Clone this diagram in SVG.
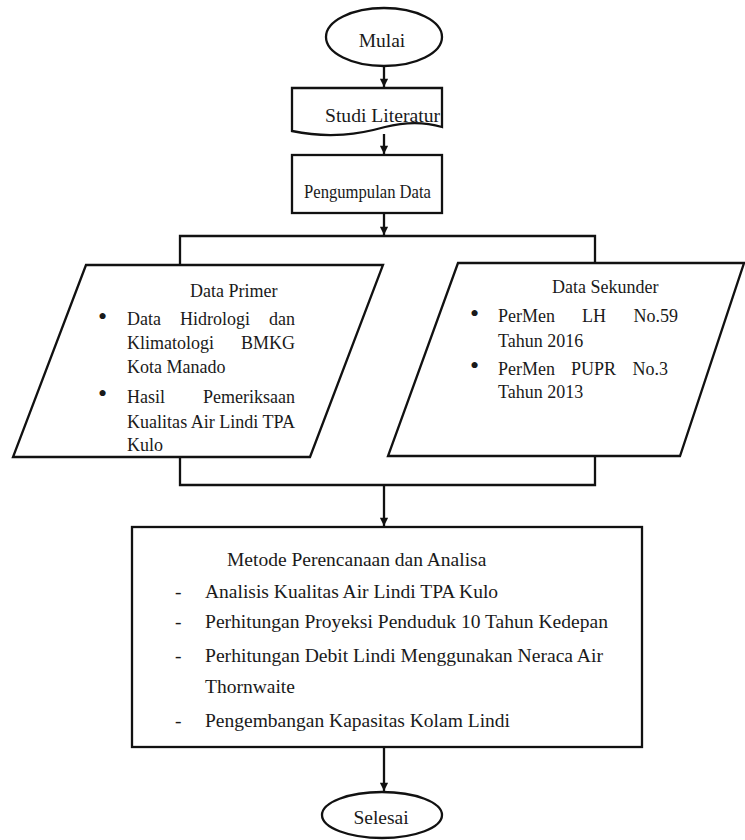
<svg xmlns="http://www.w3.org/2000/svg" width="745" height="840" viewBox="0 0 745 840">
<defs>
<marker id="arr" viewBox="0 0 10 10" refX="10" refY="5" markerWidth="4" markerHeight="3.6" orient="auto" markerUnits="strokeWidth">
<path d="M0,0 L10,5 L0,10 Z" fill="#111"/>
</marker>
<style>
.s{fill:#fff;stroke:#111;stroke-width:2.3}
.c{fill:none;stroke:#111;stroke-width:2.3}
.t1{font-size:19.5px}
.t2{font-size:18px}
.t3{font-size:19.5px}
.b{font-size:26px}
</style>
</defs>
<rect width="745" height="840" fill="#fff"/>
<g id="connectors">
<line class="c" x1="384" y1="66" x2="384" y2="87" marker-end="url(#arr)"/>
<line class="c" x1="384" y1="134" x2="384" y2="154" marker-end="url(#arr)"/>
<line class="c" x1="384" y1="213" x2="384" y2="235" marker-end="url(#arr)"/>
<polyline class="c" points="180,265 180,236 595,236 595,263"/>
<polyline class="c" points="180,457 180,485 595,485 595,456"/>
<line class="c" x1="384" y1="485" x2="384" y2="526" marker-end="url(#arr)"/>
<line class="c" x1="384" y1="747" x2="384" y2="791" marker-end="url(#arr)"/>
</g>
<g font-family="Liberation Serif, Tinos, Times New Roman, serif" fill="#1a1a1a">
<g id="mulai">
<ellipse class="s" cx="384" cy="37" rx="58" ry="29"/>
<text class="t1" x="382" y="47" text-anchor="middle">Mulai</text>
</g>
<g id="studi">
<path class="s" d="M292,88 H442 V127 C425,122 405,122 385,127 C360,134 330,139 292,131 Z"/>
<text class="t1" x="325" y="122" textLength="115" lengthAdjust="spacingAndGlyphs">Studi Literatur</text>
</g>
<g id="pengumpulan">
<rect class="s" x="292" y="155" width="150" height="58"/>
<text class="t1" x="304" y="198" textLength="127" lengthAdjust="spacingAndGlyphs">Pengumpulan Data</text>
</g>
<g id="primer">
<polygon class="s" points="86,265 383,265 310,457 13,457"/>
<text class="t2" x="190" y="297">Data Primer</text>
<text class="b" x="98" y="325">•</text>
<text class="t2" x="127" y="325">Data</text>
<text class="t2" x="180" y="325">Hidrologi</text>
<text class="t2" x="295" y="325" text-anchor="end">dan</text>
<text class="t2" x="127" y="349">Klimatologi</text>
<text class="t2" x="295" y="349" text-anchor="end">BMKG</text>
<text class="t2" x="127" y="373">Kota Manado</text>
<text class="b" x="98" y="402">•</text>
<text class="t2" x="127" y="403">Hasil</text>
<text class="t2" x="295" y="403" text-anchor="end">Pemeriksaan</text>
<text class="t2" x="127" y="428" textLength="168" lengthAdjust="spacingAndGlyphs">Kualitas Air Lindi TPA</text>
<text class="t2" x="127" y="451">Kulo</text>
</g>
<g id="sekunder">
<polygon class="s" points="458,263 744,263 680,456 388,456"/>
<text class="t2" x="552" y="293">Data Sekunder</text>
<text class="b" x="470" y="322">•</text>
<text class="t2" x="498" y="322">PerMen</text>
<text class="t2" x="582" y="322">LH</text>
<text class="t2" x="678" y="322" text-anchor="end">No.59</text>
<text class="t2" x="498" y="347">Tahun 2016</text>
<text class="b" x="470" y="374">•</text>
<text class="t2" x="498" y="375">PerMen</text>
<text class="t2" x="571" y="375">PUPR</text>
<text class="t2" x="668" y="375" text-anchor="end">No.3</text>
<text class="t2" x="498" y="398">Tahun 2013</text>
</g>
<g id="metode">
<rect class="s" x="132" y="527" width="510" height="220"/>
<text class="t3" x="227" y="566">Metode Perencanaan dan Analisa</text>
<text class="t3" x="175" y="598">-</text>
<text class="t3" x="205" y="598">Analisis Kualitas Air Lindi TPA Kulo</text>
<text class="t3" x="175" y="628">-</text>
<text class="t3" x="205" y="628" textLength="403" lengthAdjust="spacingAndGlyphs">Perhitungan Proyeksi Penduduk 10 Tahun Kedepan</text>
<text class="t3" x="175" y="662">-</text>
<text class="t3" x="205" y="662" textLength="398" lengthAdjust="spacingAndGlyphs">Perhitungan Debit Lindi Menggunakan Neraca Air</text>
<text class="t3" x="205" y="693">Thornwaite</text>
<text class="t3" x="175" y="727">-</text>
<text class="t3" x="205" y="727" textLength="305" lengthAdjust="spacingAndGlyphs">Pengembangan Kapasitas Kolam Lindi</text>
</g>
<g id="selesai">
<ellipse class="s" cx="382" cy="815" rx="60" ry="23"/>
<text class="t1" x="381" y="824" text-anchor="middle">Selesai</text>
</g>
</g>
</svg>
